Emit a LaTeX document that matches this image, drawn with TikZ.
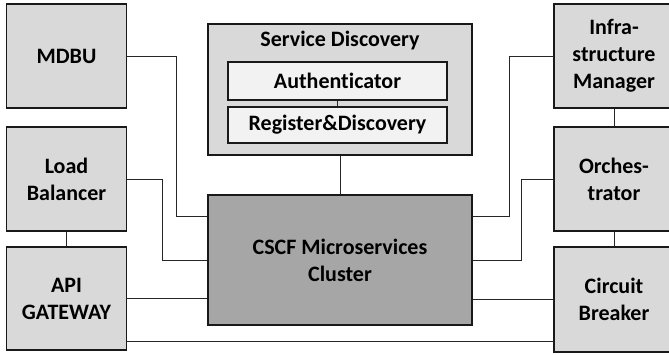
\documentclass[tikz,border=0pt]{standalone}
\usepackage{fontspec}
\setmainfont{Carlito}[Ligatures={NoCommon}]
\begin{document}
\begin{tikzpicture}[x=1pt,y=-1pt,
  box/.style={draw=black!90, line width=1.4pt, fill=black!15, inner sep=0pt, align=center,
    font=\bfseries\fontsize{22}{27}\selectfont},
  inbox/.style={draw=black!90, line width=1.2pt, fill=black!5, inner sep=0pt, align=center,
    font=\bfseries\fontsize{22}{27}\selectfont},
  conn/.style={draw=black!85, line width=0.8pt}]
\useasboundingbox (0,0) rectangle (669,354);
% left column
\node[box, minimum width=120pt, minimum height=104pt] (mdbu) at (66.5,56) {MDBU};
\node[box, minimum width=120pt, minimum height=104pt] (lb) at (66.5,179) {Load\\Balancer};
\node[box, minimum width=120pt, minimum height=103pt] (api) at (66.5,298.5) {API\\GATEWAY};
% centre
\node[box, minimum width=264pt, minimum height=131pt] (sd) at (340,89.5) {};
\node[font=\bfseries\fontsize{22}{27}\selectfont, inner sep=0pt] (sdtitle) at (340,41) {Service Discovery};
\node[inbox, minimum width=219pt, minimum height=38pt] (auth) at (337.5,81) {Authenticator};
\node[inbox, minimum width=219pt, minimum height=36pt] (reg) at (337.5,125) {Register\&Discovery};
\node[box, fill=black!35, minimum width=264pt, minimum height=130pt] (cluster) at (340,260) {CSCF Microservices\\Cluster};
% right column
\node[box, minimum width=120pt, minimum height=104pt] (im) at (614,56) {Infra-\\structure\\Manager};
\node[box, minimum width=120pt, minimum height=104pt] (orch) at (614,179) {Orches-\\trator};
\node[box, minimum width=120pt, minimum height=105pt] (cb) at (614,299.5) {Circuit\\Breaker};
% connectors
\draw[conn] (mdbu.east) -- ++(49.5,0) |- ([yshift=44pt]cluster.west);
\draw[conn] (lb.east) -- ++(35.5,0) |- (cluster.west);
\draw[conn] (api.east) -- (api.east -| cluster.west);
\draw[conn] ([yshift=-42.5pt]api.east) -- ([yshift=-42.5pt]api.east -| cb.west);
\draw[conn] ([yshift=44pt]cluster.east) -- ++(37,0) |- (im.west);
\draw[conn] (cluster.east) -- ++(49,0) |- (orch.west);
\draw[conn] (cb.west) -- (cb.west -| cluster.east);
\draw[conn] (lb.south) -- (api.north);
\draw[conn] (im.south) -- (orch.north);
\draw[conn] (orch.south) -- (cb.north);
\draw[conn] (auth.south) -- (reg.north);
\draw[conn] (sd.south) -- (cluster.north);
\end{tikzpicture}
\end{document}
